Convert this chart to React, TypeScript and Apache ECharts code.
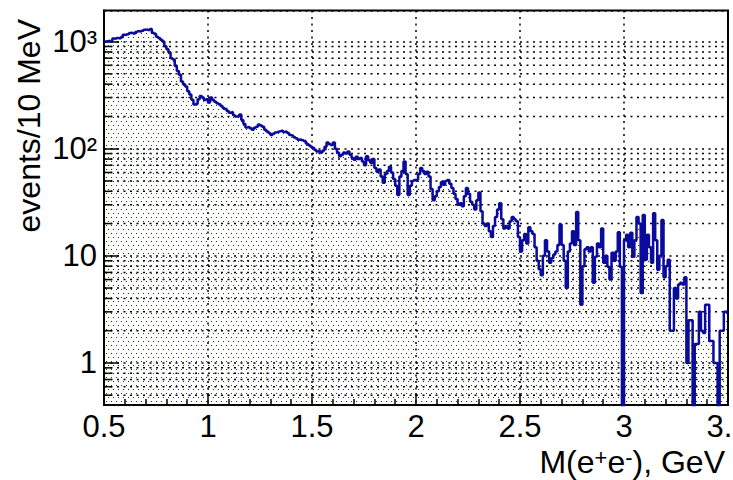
import React, { useEffect, useRef } from "react";
import * as echarts from "echarts";

// Histogram: M(e+e-) in 10 MeV bins from 0.50 to 3.50 GeV
const binStart = 0.5;
const binWidth = 0.01;
const xMin = 0.5;
const xMax = 3.5;
const yMin = 0.405;
const yMax = 1950;

const counts: number[] = [
  1000, 1010, 1020, 1000, 1070, 1060, 1080, 1070, 1100, 1160,
  1150, 1170, 1200, 1210, 1190, 1230, 1250, 1240, 1260, 1290,
  1300, 1280, 1310, 1210, 1180, 1110, 1080, 1040, 1000, 903,
  850, 790, 700, 680, 590, 530, 490, 425, 400, 380,
  343, 320, 287, 258, 262, 290, 310, 300, 285, 290,
  270, 300, 285, 275, 265, 260, 250, 240, 235, 225,
  217, 220, 205, 200, 200, 208, 185, 170, 158, 160,
  155, 150, 157, 160, 168, 165, 160, 150, 145, 140,
  134, 138, 142, 144, 146, 148, 143, 145, 140, 134,
  132, 128, 125, 121, 122, 120, 118, 112, 108, 105,
  102, 98, 94, 95, 92, 96, 104, 114, 110, 108,
  114, 100, 92, 85, 88, 92, 90, 94, 88, 82,
  79, 84, 80, 82, 76, 70, 85, 78, 74, 80,
  66, 61, 64, 55, 48, 58, 62, 68, 60, 52,
  45, 37, 55, 62, 76, 58, 37, 45, 50, 51,
  51, 58, 66, 62, 58, 61, 55, 42, 33, 36,
  40, 44, 49, 46, 50, 51, 47, 43, 38, 34,
  30, 31, 29, 36, 43, 38, 32, 30, 27, 33,
  39, 26, 20, 19, 20, 17, 15, 19, 23, 27,
  31, 22, 18, 19, 18, 21, 23, 22, 21, 15,
  11, 14, 16, 13, 18.5, 17, 16, 12, 9, 7.5,
  6.6, 10, 14, 11, 8.6, 9.5, 10.3, 11, 12.6, 19.6,
  12.6, 9, 5, 11, 13, 17, 12.6, 25.7, 14, 3.5,
  8, 11.5, 12, 11, 12, 5.6, 9.8, 13, 12, 18,
  8.6, 10, 7.9, 6, 10.7, 9, 11, 16.6, 7.9, 0,
  14, 15.7, 12, 16.4, 9.8, 14, 23, 20, 4.5, 24,
  9.2, 15.7, 12, 8.6, 25, 14, 7.4, 10, 21.6, 6.3,
  8, 9.2, 2, 2, 5, 4, 5.4, 5.6, 5.4, 6.3,
  1, 2.5, 2.5, 0, 1.5, 1.5, 3, 2, 1.9, 3.5,
  3.5, 1.6, 1.6, 1, 1, 0, 2, 2, 3, 3,
];

// minor ticks of the log axis (2..9 per decade)
const yMinorTicks: number[] = [
  0.5, 0.6, 0.7, 0.8, 0.9,
  2, 3, 4, 5, 6, 7, 8, 9,
  20, 30, 40, 50, 60, 70, 80, 90,
  200, 300, 400, 500, 600, 700, 800, 900,
];

const supDigits: Record<number, string> = { 2: "²", 3: "³" };

const FONT = "'Liberation Sans', Arial, Helvetica, sans-serif";
const LINE_COLOR = "#0a0a9c";

export default function App() {
  const ref = useRef<HTMLDivElement>(null);

  useEffect(() => {
    if (!ref.current) return;
    const chart = echarts.init(ref.current, null, { renderer: "svg" });

    // dotted fill pattern (staggered blue dots)
    const cv = document.createElement("canvas");
    cv.width = 10;
    cv.height = 8;
    const ctx = cv.getContext("2d");
    if (ctx) {
      ctx.fillStyle = "rgba(20,20,255,1)";
      ctx.fillRect(1, 1, 1, 1);
      ctx.fillRect(6, 1, 1, 1);
      ctx.fillRect(3, 5, 1, 1);
      ctx.fillRect(8, 5, 1, 1);
    }

    const floor = 0.05; // zero bins drop below the frame
    const histData: number[][] = counts.map((v, i) => [
      +(binStart + i * binWidth).toFixed(3),
      Math.max(v, floor),
    ]);
    histData.push([xMax, Math.max(counts[counts.length - 1], floor)]);

    const dotted = [2, 4.5];

    chart.setOption({
      animation: false,
      backgroundColor: "#ffffff",
      grid: {
        left: 104,
        right: 5,
        top: 10.5,
        bottom: 75,
        show: true,
        borderColor: "#000",
        borderWidth: 2,
        backgroundColor: "transparent",
        containLabel: false,
        outerBoundsMode: "none",
      },
      xAxis: {
        type: "value",
        min: xMin,
        max: xMax,
        interval: 0.5,
        axisLine: { show: true, lineStyle: { color: "#000", width: 2 } },
        axisTick: { show: true, inside: true, length: 12, lineStyle: { color: "#000", width: 1.5 } },
        minorTick: { show: true, splitNumber: 5, length: 6, lineStyle: { color: "#000", width: 1.5 } },
        splitLine: { show: true, lineStyle: { color: "#000", width: 1.5, type: dotted } },
        axisLabel: {
          show: true,
          margin: 6,
          fontSize: 31,
          fontFamily: FONT,
          color: "#000",
          showMinLabel: true,
          showMaxLabel: true,
          formatter: (v: number) => String(+v.toFixed(2)),
        },
      },
      yAxis: {
        type: "log",
        logBase: 10,
        min: yMin,
        max: yMax,
        axisLine: { show: true, lineStyle: { color: "#000", width: 2 } },
        axisTick: { show: true, inside: true, length: 15, lineStyle: { color: "#000", width: 1.5 } },
        splitLine: { show: true, lineStyle: { color: "#000", width: 1.5, type: dotted } },
        axisLabel: {
          show: true,
          margin: 7,
          fontSize: 31,
          fontFamily: FONT,
          color: "#000",
          showMinLabel: false,
          showMaxLabel: false,
          formatter: (v: number) => {
            const e = Math.round(Math.log10(v));
            if (Math.abs(v - Math.pow(10, e)) > 1e-6 * v) return "";
            if (e === 0) return "1";
            if (e === 1) return "10";
            return "10" + (supDigits[e] || "");
          },
        },
      },
      graphic: [
        {
          type: "text",
          x: 29,
          y: 19,
          rotation: Math.PI / 2,
          style: {
            text: "events/10 MeV",
            font: `32px ${FONT}`,
            fill: "#000",
            align: "right",
            verticalAlign: "middle",
          },
        },
        {
          type: "text",
          x: 725,
          y: 462,
          style: {
            text: "{a|M(e}{s|+}{a|e}{s|-}{a|), GeV}",
            align: "right",
            verticalAlign: "middle",
            rich: {
              a: { fontSize: 32, fontFamily: FONT, fill: "#000", color: "#000" },
              s: { fontSize: 22, fontFamily: FONT, fill: "#000", color: "#000", verticalAlign: "top" },
            },
          },
        },
      ],
      series: [
        {
          type: "line",
          data: histData,
          step: "end",
          showSymbol: false,
          symbol: "none",
          clip: true,
          z: 3,
          lineStyle: { color: LINE_COLOR, width: 2.5 },
          areaStyle: {
            origin: "start",
            opacity: 1,
            color: { image: cv, repeat: "repeat", imageWidth: 10, imageHeight: 8 },
          },
        },
        {
          type: "custom",
          z: 2,
          silent: true,
          data: yMinorTicks.map((v) => [xMin, v]),
          renderItem: (params: any, api: any) => {
            const v = api.value(1);
            const a = api.coord([xMin, v]);
            const b = api.coord([xMax, v]);
            return {
              type: "group",
              children: [
                {
                  type: "line",
                  shape: { x1: a[0], y1: a[1], x2: b[0], y2: a[1] },
                  style: { stroke: "#000", lineWidth: 1.5, lineDash: dotted },
                },
                {
                  type: "line",
                  shape: { x1: a[0], y1: a[1], x2: a[0] + 8, y2: a[1] },
                  style: { stroke: "#000", lineWidth: 1.5 },
                },
              ],
            };
          },
        },
      ],
    });

    return () => chart.dispose();
  }, []);

  return (
    <div
      ref={ref}
      style={{ position: "fixed", left: 0, top: 0, width: 733, height: 480, background: "#fff" }}
    />
  );
}
